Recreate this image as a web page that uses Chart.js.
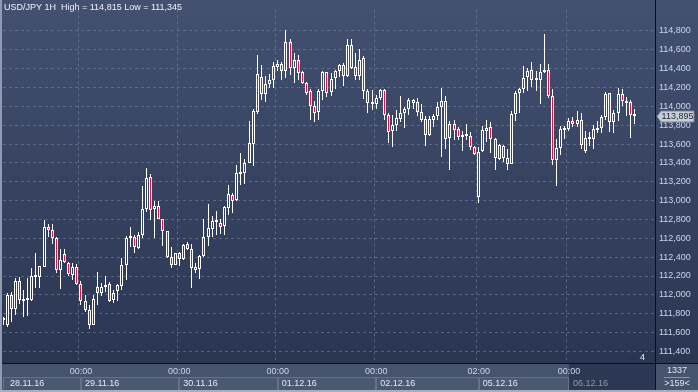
<!DOCTYPE html>
<html>
<head>
<meta charset="utf-8">
<script src="https://cdn.jsdelivr.net/npm/chart.js@4.4.1/dist/chart.umd.min.js"></script>
<style>
  html, body { margin: 0; padding: 0; background: #2b3752; }
  canvas { display: block; }
</style>
</head>
<body>
<canvas id="chart" width="698" height="392"></canvas>
<script>
// USD/JPY 1H candles (28.11.16 05:00 .. 06.12.16 15:00)
const opens = [
  111740, 111680, 111995, 111845, 112145, 111960, 111945, 111945, 112190, 112190,
  112300, 112715, 112690, 112605, 112265, 112430, 112340, 112210, 112300, 112110,
  111940, 111835, 111680, 112080, 112015, 112085, 112110, 111950, 112040, 112095,
  112315, 112605, 112610, 112500, 112640, 112915, 113255, 112915, 112940, 112800,
  112680, 112405, 112315, 112445, 112385, 112535, 112485, 112300, 112270, 112410,
  112610, 112700, 112770, 112760, 112730, 112920, 113060, 113005, 113300, 113290,
  113400, 113605, 113945, 114310, 114135, 114240, 114285, 114420, 114445, 114375,
  114680, 114410, 114495, 114365, 114245, 114165, 114005, 113940, 114160, 114360,
  114150, 114300, 114380, 114440, 114325, 114655, 114415, 114325, 114510, 114160,
  114035, 114020, 114090, 114170, 113905, 113735, 113805, 113865, 113925, 113975,
  114065, 114045, 113940, 113865, 113700, 113860, 113895, 113990, 114060, 113665,
  113815, 113755, 113675, 113690, 113690, 113570, 113040, 113525, 113735, 113780,
  113655, 113585, 113580, 113455, 113385, 113920, 114140, 114180, 114310, 114390,
  114285, 114285, 114385, 114390, 114110, 113430, 113560, 113750, 113755, 113850,
  113815, 113860, 113525, 113680, 113655, 113745, 113770, 113885, 114140, 113830,
  113930, 114130, 114060, 114050, 113920
];
const highs = [
  111760, 112015, 112035, 112175, 112190, 112055, 112175, 112280, 112440, 112305,
  112795, 112755, 112755, 112610, 112490, 112490, 112350, 112340, 112325, 112145,
  111995, 111895, 111995, 112245, 112130, 112195, 112140, 112055, 112120, 112395,
  112620, 112725, 112640, 112665, 113150, 113350, 113280, 112995, 112995, 112810,
  112680, 112505, 112440, 112455, 112540, 112560, 112535, 112340, 112420, 112800,
  112965, 112835, 112895, 112800, 112940, 113165, 113080, 113375, 113505, 113445,
  113840, 113970, 114540, 114435, 114320, 114340, 114470, 114495, 114470, 114810,
  114715, 114565, 114550, 114375, 114260, 114180, 114060, 114185, 114380, 114370,
  114355, 114390, 114450, 114460, 114720, 114720, 114570, 114605, 114530, 114180,
  114170, 114125, 114185, 114180, 113925, 113910, 113960, 114110, 113995, 114090,
  114080, 114090, 114020, 113900, 113900, 113920, 114050, 114200, 114110, 113850,
  113860, 113780, 113735, 113815, 113725, 113580, 113570, 113795, 113855, 113830,
  113665, 113605, 113595, 113550, 113955, 114165, 114190, 114430, 114410, 114470,
  114375, 114445, 114770, 114445, 114180, 113655, 113795, 113795, 113875, 113885,
  113955, 113935, 113735, 113725, 113805, 113840, 113910, 114155, 114145, 113965,
  114190, 114180, 114095, 114070, 113970
];
const lows = [
  111680, 111655, 111710, 111785, 111900, 111770, 111780, 111935, 112075, 112075,
  112300, 112610, 112540, 112230, 112065, 112335, 112200, 112155, 112100, 111890,
  111820, 111640, 111680, 111890, 111985, 112030, 111920, 111910, 111935, 112055,
  112160, 112505, 112445, 112490, 112605, 112880, 112790, 112605, 112800, 112515,
  112395, 112280, 112315, 112305, 112375, 112475, 112075, 112230, 112165, 112405,
  112515, 112610, 112640, 112650, 112640, 112845, 112870, 113000, 113165, 113175,
  113400, 113370, 113920, 114070, 114050, 114200, 114190, 114375, 114285, 114305,
  114330, 114245, 114285, 114235, 114120, 113860, 113830, 113860, 114065, 114100,
  114115, 114180, 114315, 114215, 114310, 114395, 114280, 114285, 114080, 113925,
  113960, 113970, 114065, 113855, 113615, 113570, 113735, 113835, 113770, 113910,
  113970, 113900, 113830, 113580, 113690, 113780, 113860, 113465, 113550, 113325,
  113640, 113640, 113525, 113640, 113535, 113480, 112980, 113515, 113620, 113510,
  113325, 113430, 113410, 113325, 113385, 113850, 113935, 114145, 114165, 114210,
  114165, 114025, 114355, 114085, 113375, 113150, 113480, 113655, 113735, 113780,
  113780, 113545, 113500, 113580, 113550, 113720, 113720, 113860, 113725, 113720,
  113840, 114005, 113895, 113665, 113815
];
const closes = [
  111730, 111995, 111855, 112145, 111950, 111940, 111960, 112200, 112200, 112305,
  112715, 112690, 112605, 112265, 112370, 112350, 112220, 112300, 112110, 111940,
  111835, 111680, 111960, 112015, 112080, 112105, 111940, 112020, 112100, 112315,
  112600, 112620, 112505, 112640, 112915, 113245, 112905, 112940, 112800, 112680,
  112405, 112315, 112440, 112385, 112525, 112485, 112280, 112265, 112410, 112610,
  112705, 112780, 112780, 112725, 112930, 113070, 113000, 113290, 113280, 113400,
  113610, 113955, 114340, 114130, 114235, 114285, 114425, 114445, 114375, 114680,
  114410, 114490, 114350, 114245, 114140, 114005, 113930, 114160, 114360, 114145,
  114290, 114380, 114440, 114325, 114655, 114405, 114325, 114495, 114160, 114035,
  114025, 114090, 114170, 113905, 113730, 113805, 113875, 113935, 113975, 114065,
  114040, 113940, 113855, 113700, 113865, 113895, 113990, 114055, 113655, 113815,
  113745, 113675, 113700, 113710, 113570, 113490, 113515, 113745, 113770, 113655,
  113455, 113445, 113455, 113385, 113920, 114140, 114180, 114305, 114375, 114280,
  114295, 114365, 114365, 114105, 113430, 113560, 113755, 113755, 113850, 113815,
  113860, 113595, 113665, 113655, 113755, 113775, 113885, 114135, 113830, 113930,
  114135, 114060, 114040, 113910, 113895
];

// axis layout: 160 hourly slots, the last few still empty
const slotCount = 160;
const dayStartIndex = [19, 43, 67, 91, 116, 138];
const dayTimeLabels = ['00:00', '00:00', '00:00', '00:00', '02:00', '00:00'];
const dayDateLabels = ['28.11.16', '29.11.16', '30.11.16', '01.12.16', '02.12.16', '05.12.16', '06.12.16'];
const yTickValues = [111400, 111600, 111800, 112000, 112200, 112400, 112600, 112800,
                     113000, 113200, 113400, 113600, 113800, 114000, 114200, 114400, 114600, 114800];
const titleText = 'USD/JPY 1H  High = 114,815 Low = 111,345';
const lastPrice = closes[closes.length - 1];

const FONT = 'Liberation Sans, Arial, sans-serif';
const gridColor = 'rgba(125,140,172,0.5)';
const bearColor = '#e3103f';

function fmtPrice(v) {
  return Math.floor(v / 1000) + ',' + String(Math.round(v % 1000)).padStart(3, '0');
}

const slots = [];
for (let i = 0; i < slotCount; i++) slots.push(i);

const upperWick = opens.map((o, i) => [Math.max(o, closes[i]), highs[i]]);
const lowerWick = opens.map((o, i) => [lows[i], Math.min(o, closes[i])]);
const bodies = opens.map((o, i) => [Math.min(o, closes[i]), Math.max(o, closes[i])]);
const bodyFill = opens.map((o, i) => closes[i] >= o ? 'rgba(0,0,0,0)' : bearColor);

// snap candle parts to whole pixels so the thin bars stay crisp
const snapPlugin = {
  id: 'snap',
  beforeDatasetsDraw(chart) {
    chart.data.datasets.forEach((ds, i) => {
      chart.getDatasetMeta(i).data.forEach(el => {
        el.x = Math.floor(el.x) + 0.5;
        el.y = Math.round(el.y);
        el.base = Math.round(el.base);
      });
    });
  }
};

const framePlugin = {
  id: 'frame',
  beforeDraw(chart) {
    const ctx = chart.ctx;
    const W = chart.width, H = chart.height;
    const a = chart.chartArea;
    const x = chart.scales.x;
    ctx.save();
    const g = ctx.createLinearGradient(0, 0, 0, a.bottom);
    g.addColorStop(0, '#435070');
    g.addColorStop(1, '#2a3651');
    ctx.fillStyle = g;
    ctx.fillRect(0, 0, W, a.bottom);

    // bottom time band
    ctx.fillStyle = '#46536d';
    ctx.fillRect(0, a.bottom, W, H - a.bottom);

    const starts = [a.left].concat(dayStartIndex.map(i => x.getPixelForValue(i)));
    for (let k = 0; k < starts.length; k++) {
      const x0 = Math.round(starts[k]);
      const x1 = k + 1 < starts.length ? Math.round(starts[k + 1]) : Math.round(a.right);
      if (k === starts.length - 1) {
        ctx.fillStyle = '#2c3753';
        ctx.fillRect(x0, a.bottom, x1 - x0, H - a.bottom - 2);
      } else {
        ctx.fillStyle = '#4b5874';
        ctx.fillRect(x0, 377, x1 - x0, 13);
        ctx.strokeStyle = '#63718c';
        ctx.lineWidth = 1;
        ctx.strokeRect(x0 + 0.5, 377.5, x1 - x0 - 1, 13);
      }
    }

    // bottom right counter box
    ctx.fillStyle = '#46536d';
    ctx.fillRect(a.right, a.bottom, W - a.right, H - a.bottom);

    // outer frame
    ctx.fillStyle = '#8e9bb2';
    ctx.fillRect(0, 0, 2, H);
    ctx.fillStyle = '#a3aec0';
    ctx.fillRect(0, H - 2, W, 2);
    ctx.restore();
  },
  afterDraw(chart) {
    const ctx = chart.ctx;
    const W = chart.width, H = chart.height;
    const a = chart.chartArea;
    const x = chart.scales.x, y = chart.scales.y;
    ctx.save();

    // separators
    ctx.strokeStyle = '#0b0f18';
    ctx.lineWidth = 1;
    ctx.beginPath();
    ctx.moveTo(a.right + 0.5, 0); ctx.lineTo(a.right + 0.5, H - 2);
    ctx.moveTo(2, a.bottom + 0.5); ctx.lineTo(W, a.bottom + 0.5);
    ctx.stroke();

    // date labels
    ctx.font = '9px ' + FONT;
    ctx.textBaseline = 'middle';
    ctx.textAlign = 'left';
    const starts = [a.left].concat(dayStartIndex.map(i => x.getPixelForValue(i)));
    for (let k = 0; k < dayDateLabels.length; k++) {
      ctx.fillStyle = k === dayDateLabels.length - 1 ? '#8c98ae' : '#e2e8f2';
      ctx.fillText(dayDateLabels[k], k === 0 ? 10 : starts[k] + 4, 383.5);
    }

    // title
    ctx.fillStyle = '#eef2f8';
    ctx.fillText(titleText, 4, 8);

    // counter box
    ctx.textAlign = 'center';
    ctx.fillStyle = '#dfe5f0';
    ctx.fillText('1337', 677, 371);
    ctx.fillText('>159<', 677, 384);
    ctx.strokeStyle = '#8a96ab';
    ctx.beginPath();
    ctx.moveTo(664, 377.5); ctx.lineTo(690, 377.5);
    ctx.stroke();

    // small marker above the time band
    ctx.fillStyle = '#26304a';
    ctx.beginPath();
    ctx.moveTo(629, 360); ctx.lineTo(636, 360); ctx.lineTo(632.5, 356.5);
    ctx.closePath(); ctx.fill();
    ctx.fillStyle = '#e6ebf3';
    ctx.textAlign = 'left';
    ctx.fillText('4', 640, 358);

    // last price tag
    const py = Math.round(y.getPixelForValue(lastPrice)) + 0.5;
    ctx.beginPath();
    ctx.moveTo(657, py);
    ctx.lineTo(661, py - 5.5);
    ctx.lineTo(694, py - 5.5);
    ctx.lineTo(694, py + 5.5);
    ctx.lineTo(661, py + 5.5);
    ctx.closePath();
    ctx.fillStyle = '#c9cdd6';
    ctx.fill();
    ctx.strokeStyle = '#7d8494';
    ctx.stroke();
    ctx.fillStyle = '#1d2434';
    ctx.textAlign = 'center';
    ctx.fillText(fmtPrice(lastPrice), 677.5, py + 0.5);
    ctx.restore();
  }
};

const barCommon = {
  grouped: false,
  inflateAmount: 0,
  borderSkipped: false
};

const chart = new Chart(document.getElementById('chart').getContext('2d'), {
  type: 'bar',
  data: {
    labels: slots,
    datasets: [
      Object.assign({
        label: 'upper wick',
        data: upperWick,
        backgroundColor: '#ffffff',
        barThickness: 1,
        borderWidth: 0,
        order: 3
      }, barCommon),
      Object.assign({
        label: 'lower wick',
        data: lowerWick,
        backgroundColor: '#ffffff',
        barThickness: 1,
        borderWidth: 0,
        order: 2
      }, barCommon),
      Object.assign({
        label: 'body',
        data: bodies,
        backgroundColor: bodyFill,
        borderColor: '#ffffff',
        borderWidth: 1,
        barThickness: 3,
        minBarLength: 2,
        order: 1
      }, barCommon)
    ]
  },
  options: {
    responsive: false,
    animation: false,
    events: [],
    layout: { padding: { left: 3, top: 3, right: 0, bottom: 2 } },
    plugins: {
      legend: { display: false },
      tooltip: { enabled: false },
      title: { display: false }
    },
    scales: {
      x: {
        type: 'category',
        offset: false,
        grid: {
          color: c => dayStartIndex.includes(c.index) ? gridColor : 'rgba(0,0,0,0)',
          drawTicks: false
        },
        border: { display: false, dash: [3, 3] },
        ticks: {
          autoSkip: false,
          maxRotation: 0,
          padding: 3,
          color: '#c9d5ea',
          font: { family: FONT, size: 9 },
          callback: (v, i) => {
            const k = dayStartIndex.indexOf(i);
            return k >= 0 ? dayTimeLabels[k] : '';
          }
        },
        afterFit: s => { s.height = 27; }
      },
      y: {
        position: 'right',
        min: 111277,
        max: 115029,
        afterBuildTicks: s => { s.ticks = yTickValues.map(v => ({ value: v })); },
        grid: { color: gridColor, drawTicks: false },
        border: { display: false, dash: [3, 3] },
        ticks: {
          padding: 4,
          color: '#c9d6ee',
          font: { family: FONT, size: 9 },
          callback: v => fmtPrice(v)
        },
        afterFit: s => { s.width = 43; }
      }
    }
  },
  plugins: [snapPlugin, framePlugin]
});
</script>
</body>
</html>
